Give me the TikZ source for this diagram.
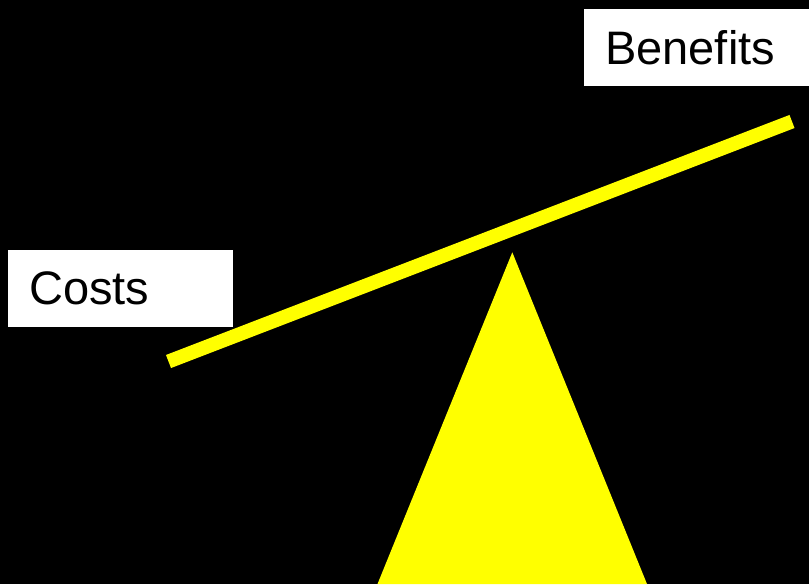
\documentclass[tikz,border=0pt]{standalone}
\usepackage{fontspec}
\setmainfont{Liberation Sans}
\definecolor{beamyellow}{RGB}{255,255,0}
\begin{document}
\begin{tikzpicture}[x=1pt,y=-1pt,
  label box/.style={fill=white, anchor=north west, minimum height=77pt,
    inner xsep=21pt, inner ysep=0pt, text width=183pt, align=left,
    font=\fontsize{47}{50}\selectfont},
  beam/.style={draw=beamyellow, line width=14pt},
  fulcrum/.style={fill=beamyellow}]
  \fill[black] (0,0) rectangle (809,584);
  \useasboundingbox (0,0) rectangle (809,584);
  % labels
  \node[label box] (costs) at (8,250) {Costs};
  \node[label box] (benefits) at (584,9) {Benefits};
  % beam
  \coordinate (beamL) at (168.5,361.5);
  \coordinate (beamR) at (792,121.5);
  \draw[beam] (beamL) -- (beamR);
  % fulcrum
  \coordinate (apex) at (512.3,252.3);
  \coordinate (baseL) at (377.5,584);
  \coordinate (baseR) at (647,584);
  \fill[fulcrum] (apex) -- (baseR) -- (baseL) -- cycle;
\end{tikzpicture}
\end{document}
